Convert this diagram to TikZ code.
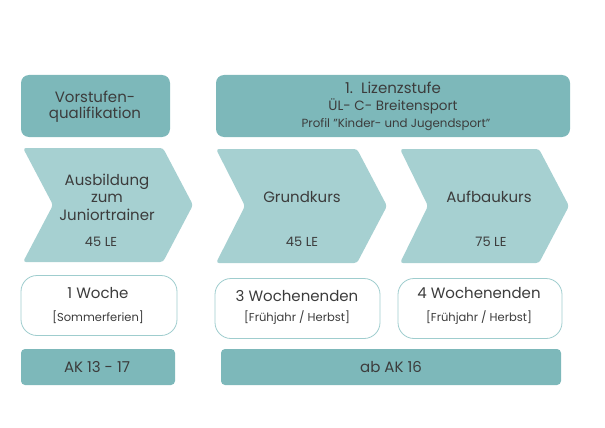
\documentclass[tikz,border=0pt]{standalone}
\usepackage{fontspec}
\setmainfont{Poppins}
\definecolor{dteal}{HTML}{7DB8BA}
\definecolor{lteal}{HTML}{A6D0D1}
\definecolor{bteal}{HTML}{9FCDCE}
\definecolor{txt}{HTML}{3C3C3C}
\begin{document}
\begin{tikzpicture}[x=1pt,y=-1pt,
  lbl/.style={inner sep=0pt, text height=0.7em, text depth=0pt, text=txt, font=\fontsize{#1}{#1}\selectfont},
  topbox/.style={fill=dteal, rounded corners=8pt, inner sep=0pt},
  barbox/.style={fill=dteal, rounded corners=4pt, inner sep=0pt},
  whitebox/.style={draw=bteal, line width=0.8pt, fill=white, rounded corners=16pt, inner sep=0pt},
  chev/.style={fill=lteal, rounded corners=3pt}]
\useasboundingbox (0,0) rectangle (605,428);
% top boxes
\node[topbox, minimum width=149pt, minimum height=62pt] (vq) at (95.5,106) {};
\node[topbox, minimum width=354pt, minimum height=62pt] (liz) at (393,106) {};
\node[lbl=15] (vq1) at (95,99) {Vorstufen-};
\node[lbl=15] (vq2) at (95,115) {qualifikation};
\node[lbl=15] (liz1) at (393,90) {1.\ \ Lizenzstufe};
\node[lbl=13.5] (liz2) at (393,107) {ÜL- C- Breitensport};
\node[lbl=11.8] (liz3) at (396,124) {Profil "Kinder- und Jugendsport"};
% chevrons
\path[chev] (23,148) -- (163,148) -- (193,205) -- (163,262) -- (23,262) -- (53,205) -- cycle;
\path[chev] (216,149) -- (357,149) -- (387,206) -- (357,263) -- (216,263) -- (245,206) -- cycle;
\path[chev] (400,149) -- (539,149) -- (569,206) -- (539,263) -- (400,263) -- (428,206) -- cycle;
\node[lbl=15] (c1a) at (107,182) {Ausbildung};
\node[lbl=15] (c1b) at (107,199) {zum};
\node[lbl=15] (c1c) at (107,217) {Juniortrainer};
\node[lbl=13] (c1d) at (101,243) {45 LE};
\node[lbl=15] (c2a) at (302,199) {Grundkurs};
\node[lbl=13] (c2b) at (302,243) {45 LE};
\node[lbl=15] (c3a) at (489,199) {Aufbaukurs};
\node[lbl=13] (c3b) at (491,243) {75 LE};
% white boxes
\node[whitebox, minimum width=156pt, minimum height=60pt] (w1) at (99,305.5) {};
\node[whitebox, minimum width=165pt, minimum height=60pt] (w2) at (297.5,308.5) {};
\node[whitebox, minimum width=164pt, minimum height=60pt] (w3) at (480,308.5) {};
\node[lbl=15] (w1a) at (98,295) {1 Woche};
\node[lbl=11.5] (w1b) at (98,318) {[Sommerferien]};
\node[lbl=15] (w2a) at (297,298) {3 Wochenenden};
\node[lbl=11.5] (w2b) at (297,318) {[Frühjahr / Herbst]};
\node[lbl=15] (w3a) at (479,295) {4 Wochenenden};
\node[lbl=11.5] (w3b) at (479,318) {[Frühjahr / Herbst]};
% bottom bars
\node[barbox, minimum width=154pt, minimum height=36pt] (b1) at (98,367) {};
\node[barbox, minimum width=340pt, minimum height=36pt] (b2) at (391,367) {};
\node[lbl=15] (b1a) at (97,369) {AK 13 - 17};
\node[lbl=15] (b2a) at (391,369) {ab AK 16};
\end{tikzpicture}
\end{document}
